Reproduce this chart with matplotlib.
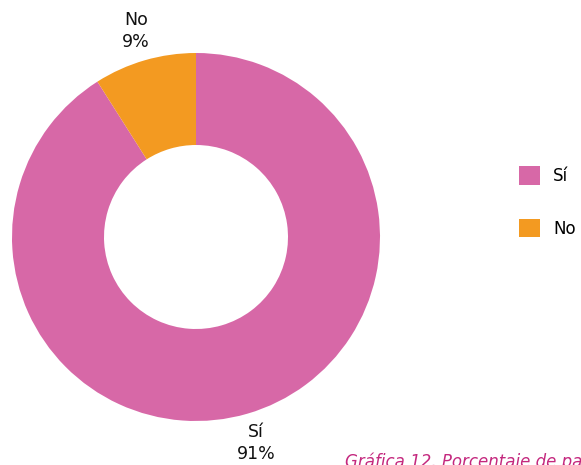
import matplotlib.pyplot as plt
from matplotlib.patches import Patch

categories = ['Sí', 'No']
values = [91, 9]
colors = ['#d768a7', '#f39a21']

fig = plt.figure(figsize=(5.81, 4.65), dpi=100)
# donut axes, centred on the left part of the figure
ax = fig.add_axes([12 / 581, 44 / 465, 368 / 581, 368 / 465])

labels = [f'{c}\n{v}%' for c, v in zip(categories, values)]
wedges, texts = ax.pie(values, colors=colors, startangle=90, counterclock=False,
                       radius=1, labels=labels, labeldistance=1.165,
                       wedgeprops=dict(width=0.5, linewidth=0),
                       textprops=dict(fontsize=12.5, color='#111111', ha='center', va='center',
                                      linespacing=1.3))
for t in texts:
    t.set_horizontalalignment('center')
    t.set_multialignment('center')
ax.set_xlim(-1, 1)
ax.set_ylim(-1, 1)
ax.set_aspect('equal')
ax.axis('off')

handles = [Patch(facecolor=c, edgecolor='none') for c in colors]
fig.legend(handles, categories, loc='center left', bbox_to_anchor=(504 / 581, 1 - 202 / 465),
           frameon=False, fontsize=12, handlelength=1.27, handleheight=1.35,
           labelspacing=2.0, handletextpad=0.78)

fig.text(345 / 581, 1 - 452 / 465, 'Gráfica 12. Porcentaje de participantes', fontsize=12,
         style='italic', color='#c4287e', va='top', ha='left')

fig.savefig('out.png', dpi=100)
